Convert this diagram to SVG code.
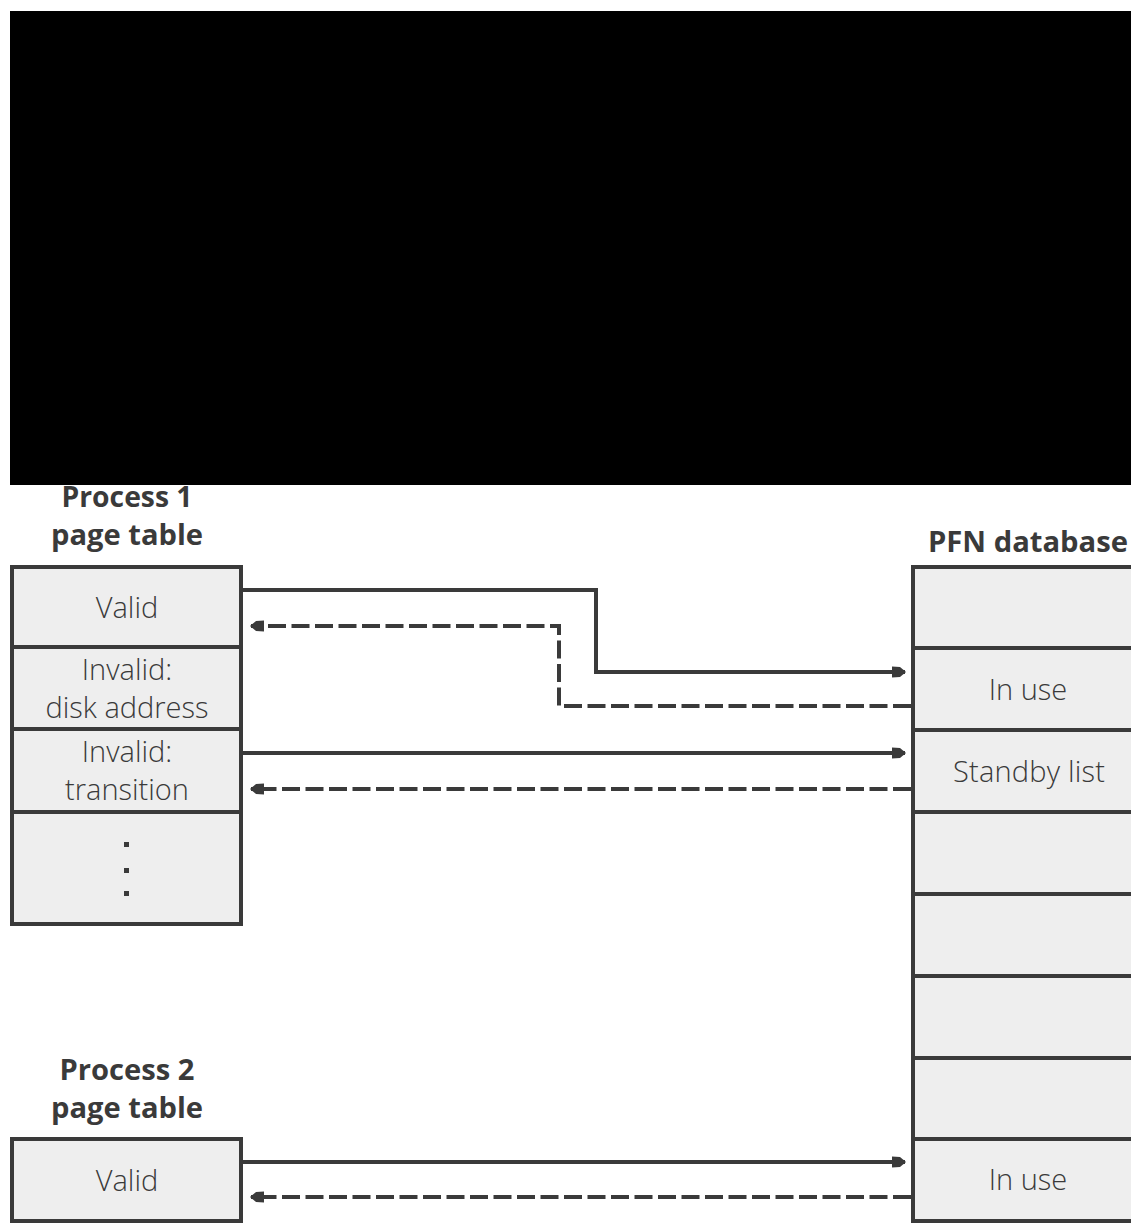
<svg xmlns="http://www.w3.org/2000/svg" width="1131" height="1224" viewBox="0 0 1131 1224">
<style>
.cell{fill:#eeeeee;stroke:#3a3a3a;stroke-width:4}
.hdr{font-family:"Open Sans","Liberation Sans",sans-serif;font-weight:700;font-size:28px;fill:#3a3a3a;text-anchor:middle}
.lbl{font-family:"Open Sans","Liberation Sans",sans-serif;font-weight:300;font-size:29px;fill:#3a3a3a;text-anchor:middle}
.ln{fill:none;stroke:#3a3a3a;stroke-width:4}
.dash{stroke-dasharray:18 5.5}
</style>
<defs>
<marker id="ah" markerUnits="userSpaceOnUse" viewBox="0 0 14 14" markerWidth="14" markerHeight="14" refX="13" refY="7" orient="auto">
<path d="M0,1.5 L8,2 L14,7 L8,12 L0,12.5 Z" fill="#3a3a3a"/>
</marker>
</defs>
<rect x="10" y="11" width="1121" height="474" fill="#000"/>

<g id="process1">
<text class="hdr" x="127" y="507" textLength="131" lengthAdjust="spacingAndGlyphs">Process 1</text>
<text class="hdr" x="127" y="545" textLength="152" lengthAdjust="spacingAndGlyphs">page table</text>
<rect class="cell" x="12" y="567" width="229" height="80"/>
<rect class="cell" x="12" y="647" width="229" height="82"/>
<rect class="cell" x="12" y="729" width="229" height="83"/>
<rect class="cell" x="12" y="812" width="229" height="112"/>
<text class="lbl" x="127" y="618">Valid</text>
<text class="lbl" x="127" y="680">Invalid:</text>
<text class="lbl" x="127" y="718" textLength="163">disk address</text>
<text class="lbl" x="127" y="762">Invalid:</text>
<text class="lbl" x="127" y="800">transition</text>
<rect x="124" y="842" width="5" height="5" fill="#3a3a3a"/>
<rect x="124" y="868" width="5" height="5" fill="#3a3a3a"/>
<rect x="124" y="891" width="5" height="5" fill="#3a3a3a"/>
</g>

<g id="process2">
<text class="hdr" x="127" y="1080" textLength="135" lengthAdjust="spacingAndGlyphs">Process 2</text>
<text class="hdr" x="127" y="1118" textLength="152" lengthAdjust="spacingAndGlyphs">page table</text>
<rect class="cell" x="12" y="1139" width="229" height="82"/>
<text class="lbl" x="127" y="1191">Valid</text>
</g>

<g id="pfn">
<text class="hdr" x="1028" y="552" textLength="200" lengthAdjust="spacingAndGlyphs">PFN database</text>
<rect class="cell" x="913" y="567" width="240" height="81"/>
<rect class="cell" x="913" y="648" width="240" height="82"/>
<rect class="cell" x="913" y="730" width="240" height="82"/>
<rect class="cell" x="913" y="812" width="240" height="82"/>
<rect class="cell" x="913" y="894" width="240" height="82"/>
<rect class="cell" x="913" y="976" width="240" height="82"/>
<rect class="cell" x="913" y="1058" width="240" height="81"/>
<rect class="cell" x="913" y="1139" width="240" height="82"/>
<text class="lbl" x="1028" y="700">In use</text>
<text class="lbl" x="1029" y="782" textLength="152">Standby list</text>
<text class="lbl" x="1028" y="1190">In use</text>
</g>

<g id="connectors">
<path class="ln" d="M243,590 H596 V672 H905" marker-end="url(#ah)"/>
<path class="ln dash" d="M911,706 H559 V626 H251" marker-end="url(#ah)"/>
<path class="ln" d="M243,753 H905" marker-end="url(#ah)"/>
<path class="ln dash" d="M911,789 H251" marker-end="url(#ah)"/>
<path class="ln" d="M243,1162 H905" marker-end="url(#ah)"/>
<path class="ln dash" d="M911,1197 H251" marker-end="url(#ah)"/>
</g>
</svg>
